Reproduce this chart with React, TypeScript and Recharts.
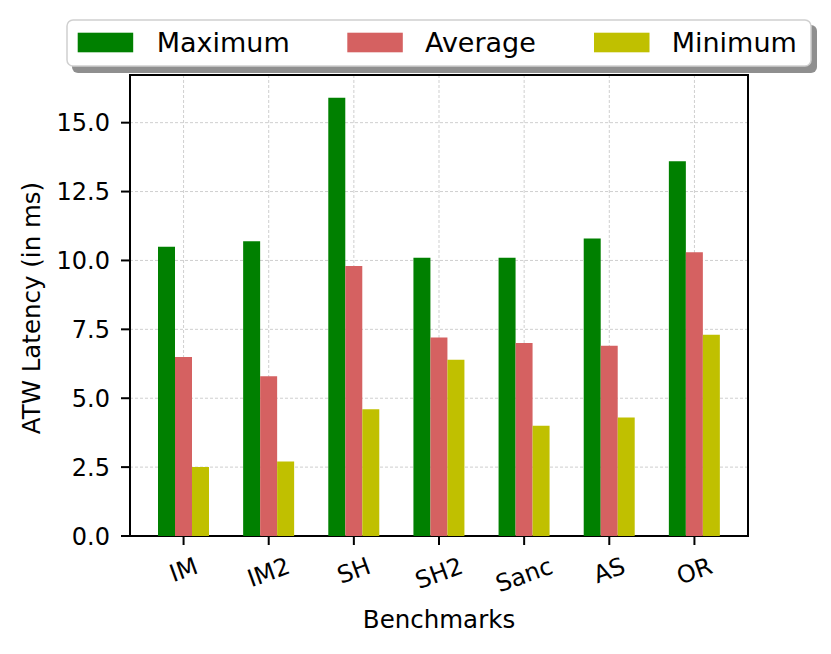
import React from 'react';
import { BarChart, Bar, XAxis, YAxis, CartesianGrid, Legend, Customized } from 'recharts';

const categories = ['IM', 'IM2', 'SH', 'SH2', 'Sanc', 'AS', 'OR'];
const seriesNames = ['Maximum', 'Average', 'Minimum'];
const maximum = [10.5, 10.7, 15.9, 10.1, 10.1, 10.8, 13.6];
const average = [6.5, 5.8, 9.8, 7.2, 7.0, 6.9, 10.3];
const minimum = [2.5, 2.7, 4.6, 6.4, 4.0, 4.3, 7.3];
const yTicks = [0, 2.5, 5, 7.5, 10, 12.5, 15];

const data = categories.map((name, i) => ({
  name,
  Maximum: maximum[i],
  Average: average[i],
  Minimum: minimum[i],
}));

const FONT = '"DejaVu Sans", sans-serif';
const W = 831;
const H = 654;
const plot = { left: 130, top: 75, right: 748, bottom: 536 };

let ctx: CanvasRenderingContext2D | null = null;
const textWidth = (s: string, size: number) => {
  if (!ctx) ctx = document.createElement('canvas').getContext('2d');
  if (!ctx) return s.length * size * 0.62;
  ctx.font = `${size}px "DejaVu Sans"`;
  return ctx.measureText(s).width;
};

// rotated tick labels, placed like matplotlib (rotated box top-center at the tick)
const XTick = (props: any) => {
  const { x, y, payload } = props;
  const size = 24;
  const w = textWidth(payload.value, size);
  const a = (20 * Math.PI) / 180;
  const boxH = w * Math.sin(a) + size * 1.164 * Math.cos(a);
  const cx = x;
  const cy = y + 7 + boxH / 2;
  return (
    <text
      x={cx}
      y={cy}
      textAnchor="middle"
      dominantBaseline="central"
      transform={`rotate(-20 ${cx} ${cy})`}
      fontFamily={FONT}
      fontSize={size}
      fill="#000"
    >
      {payload.value}
    </text>
  );
};

const legendX = [
  { patch: 77.7, text: 156.7 },
  { patch: 347.3, text: 425 },
  { patch: 594, text: 671.7 },
];

const renderLegend = (props: any) => {
  const items = [...(props.payload || [])].sort(
    (a: any, b: any) => seriesNames.indexOf(a.value) - seriesNames.indexOf(b.value)
  );
  return (
    <svg width={W} height={80} style={{ display: 'block', overflow: 'visible' }}>
      <rect x={72} y={25} width={745} height={48} rx={6} fill="#8f8f8f" />
      <rect x={67} y={20} width={744} height={46} rx={6} fill="#fff" stroke="#d0d0d0" strokeWidth={1.5} />
      {items.map((it: any, i: number) => (
        <g key={it.value}>
          <rect x={legendX[i].patch} y={32.7} width={55.5} height={19.6} fill={it.color} />
          <text x={legendX[i].text} y={52.3} fontFamily={FONT} fontSize={27} fill="#000">
            {it.value}
          </text>
        </g>
      ))}
    </svg>
  );
};

const Overlay = () => (
  <g>
    <rect
      x={plot.left}
      y={plot.top}
      width={plot.right - plot.left}
      height={plot.bottom - plot.top}
      fill="none"
      stroke="#000"
      strokeWidth={2}
    />
    <text x={439} y={628} textAnchor="middle" fontFamily={FONT} fontSize={24.5} fill="#000">
      Benchmarks
    </text>
    <text
      x={31}
      y={308}
      textAnchor="middle"
      dominantBaseline="central"
      transform="rotate(-90 31 308)"
      fontFamily={FONT}
      fontSize={24.5}
      fill="#000"
    >
      ATW Latency (in ms)
    </text>
  </g>
);

export default function App() {
  return (
    <div style={{ position: 'absolute', left: 0, top: 0, width: W, height: H, background: '#fff' }}>
      <BarChart
        width={W}
        height={H}
        data={data}
        margin={{ top: plot.top, right: W - plot.right, left: 0, bottom: 0 }}
        barGap={0}
      >
        <CartesianGrid stroke="#cfcfcf" strokeDasharray="3 2" strokeWidth={1} />
        <XAxis
          dataKey="name"
          height={H - plot.bottom}
          padding={{ left: 11, right: 11 }}
          axisLine={false}
          tickLine={{ stroke: '#000', strokeWidth: 2 }}
          tickSize={9}
          tickMargin={0}
          tick={<XTick />}
          interval={0}
        />
        <YAxis
          width={plot.left}
          domain={[0, 16.73]}
          ticks={yTicks}
          allowDataOverflow
          axisLine={false}
          tickLine={{ stroke: '#000', strokeWidth: 2 }}
          tickSize={9}
          tickMargin={11}
          tickFormatter={(v: number) => v.toFixed(1)}
          tick={{ fontFamily: FONT, fontSize: 24, fill: '#000' }}
        />
        <Legend
          verticalAlign="top"
          align="left"
          content={renderLegend}
          wrapperStyle={{ position: 'absolute', left: 0, top: 0, width: W, height: 0, overflow: 'visible' }}
        />
        <Bar dataKey="Maximum" name="Maximum" fill="#008000" barSize={17} isAnimationActive={false} />
        <Bar dataKey="Average" name="Average" fill="#d56161" barSize={17} isAnimationActive={false} />
        <Bar dataKey="Minimum" name="Minimum" fill="#c0c000" barSize={17} isAnimationActive={false} />
        <Customized component={Overlay} />
      </BarChart>
    </div>
  );
}
